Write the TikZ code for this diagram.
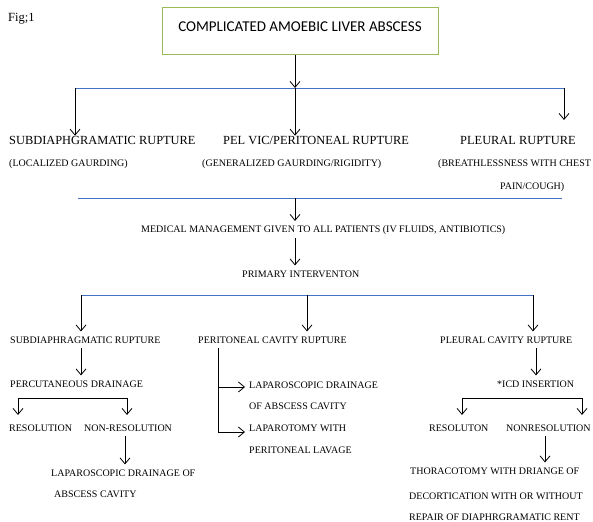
\documentclass[tikz,border=0pt]{standalone}
\usepackage{fontspec}
\setmainfont{Liberation Serif}
\newfontfamily\titlefont{Carlito}
\usetikzlibrary{arrows.meta}
\definecolor{barblue}{HTML}{4472C4}
\definecolor{boxgreen}{HTML}{9BBB59}
\begin{document}
\begin{tikzpicture}[x=1pt,y=-1pt,
  sm/.style={anchor=base west, inner xsep=0pt, inner ysep=5pt, font=\fontsize{10}{11}\selectfont, text height=6.6pt, text depth=0pt},
  big/.style={anchor=base west, inner sep=0pt, font=\fontsize{12.4}{14}\selectfont, text height=8.2pt, text depth=0pt},
  arr/.style={-{Straight Barb[length=6pt,width=10pt]}, line width=0.8pt},
  arrboth/.style={{Straight Barb[length=6pt,width=10pt]}-{Straight Barb[length=6pt,width=10pt]}, line width=0.8pt},
  ln/.style={line width=0.8pt},
  bar/.style={draw=barblue, line width=0.9pt}]
\fill[white] (0,0) rectangle (593,521);
\useasboundingbox (0,0) rectangle (593,521);

% title and label
\node[draw=boxgreen, line width=1pt, minimum width=276pt, minimum height=47pt, inner sep=0pt,
      text height=6pt, text depth=6pt, font=\titlefont\fontsize{15}{16}\selectfont]
      (title) at (300,31.5) {COMPLICATED AMOEBIC LIVER ABSCESS};
\node[anchor=base west, inner sep=0pt, font=\fontsize{12.5}{14}\selectfont] (fig) at (8,22) {Fig;1};

% level 1
\node[big] (sub1) at (9,144.1) {SUBDIAPHGRAMATIC RUPTURE};
\node[big] (pel1) at (223,144.1) {PEL VIC/PERITONEAL RUPTURE};
\node[big] (pl1) at (460,144.1) {PLEURAL RUPTURE};
\node[sm] (locg) at (9,166.75) {(LOCALIZED GAURDING)};
\node[sm] (geng) at (202,166.75) {(GENERALIZED GAURDING/RIGIDITY)};
\node[sm] (brea1) at (438,166.75) {(BREATHLESSNESS WITH CHEST};
\node[sm] (brea2) at (500,189.25) {PAIN/COUGH)};

% middle
\node[sm] (med) at (141,232.75) {MEDICAL MANAGEMENT GIVEN TO ALL PATIENTS (IV FLUIDS, ANTIBIOTICS)};
\node[sm] (prim) at (242,277.25) {PRIMARY INTERVENTON};

% level 3
\node[sm] (sub2) at (10,343.25) {SUBDIAPHRAGMATIC RUPTURE};
\node[sm] (per2) at (198,343.25) {PERITONEAL CAVITY RUPTURE};
\node[sm] (ple2) at (440,343.25) {PLEURAL CAVITY RUPTURE};
\node[sm] (perc) at (10,387.25) {PERCUTANEOUS DRAINAGE};
\node[sm] (icd) at (497,387.25) {*ICD INSERTION};
\node[sm] (lapd1) at (249,388.25) {LAPAROSCOPIC DRAINAGE};
\node[sm] (lapd2) at (249,409.25) {OF ABSCESS CAVITY};
\node[sm] (res1) at (9,431.25) {RESOLUTION};
\node[sm] (nres1) at (84,431.25) {NON-RESOLUTION};
\node[sm] (lapt1) at (249,431.25) {LAPAROTOMY WITH};
\node[sm] (lapt2) at (249,453.25) {PERITONEAL LAVAGE};
\node[sm] (res2) at (429,431.25) {RESOLUTON};
\node[sm] (nres2) at (506,431.25) {NONRESOLUTION};
\node[sm] (lap1) at (51,476.25) {LAPAROSCOPIC DRAINAGE OF};
\node[sm] (lap2) at (54,497.25) {ABSCESS CAVITY};
\node[sm] (thor1) at (410,474.25) {THORACOTOMY WITH DRIANGE OF};
\node[sm] (thor2) at (409,499.25) {DECORTICATION WITH OR WITHOUT};
\node[sm] (thor3) at (409,520.25) {REPAIR OF DIAPHRGRAMATIC RENT};

% coordinates
\coordinate (b1) at (295,88);
\coordinate (b1L) at (75,88);
\coordinate (b1R) at (564,88);
\coordinate (p1end) at (564,120);
\coordinate (b2) at (295,198);
\coordinate (b2L) at (78,198);
\coordinate (b2R) at (562,198);
\coordinate (b3L) at (81,295);
\coordinate (b3M) at (307,295);
\coordinate (b3R) at (533,295);
\coordinate (f1L) at (18,398);
\coordinate (f1R) at (127,398);
\coordinate (nr1) at (125,438);
\coordinate (pa) at (218,387);
\coordinate (pb) at (218,432);
\coordinate (pc) at (536,349);
\coordinate (f2L) at (462,398);
\coordinate (f2R) at (582,398);
\coordinate (nr2) at (545,438);

% bars
\draw[bar] (b1L) -- (b1R);
\draw[bar] (b2L) -- (b2R);
\draw[bar] (b3L) -- (b3R);

% connectors
\draw[arr] (title.south -| b1) -- (b1);
\draw[arr] (b1L) -- (b1L |- sub1.north);
\draw[arr] (b1) -- (b1 |- pel1.north);
\draw[arr] (b1R) -- (p1end);
\draw[arr] (b2) -- (b2 |- med.north);
\draw[arr] (med.south -| b2) -- (prim.north -| b2);
\draw[arr] (b3L) -- (b3L |- sub2.north);
\draw[arr] (b3M) -- (b3M |- per2.north);
\draw[arr] (b3R) -- (b3R |- ple2.north);

\draw[arr] (sub2.south -| b3L) -- (perc.north -| b3L);
\draw[arrboth, shorten <=4.5pt, shorten >=4.5pt] (res1.north -| f1L) -- (f1L) -- (f1R) -- (nres1.north -| f1R);
\draw[arr] (nres1.south -| nr1) -- (lap1.north -| nr1);

\draw[arr, shorten >=4pt] (per2.south -| pa) -- (pb) -- (pb -| lapt1.west);
\draw[arr, shorten >=4pt] (pa) -- (pa -| lapd1.west);

\draw[arr] (ple2.south -| pc) -- (icd.north -| pc);
\draw[arrboth, shorten <=4.5pt, shorten >=4.5pt] (res2.north -| f2L) -- (f2L) -- (f2R) -- (nres2.north -| f2R);
\draw[arr] (nres2.south -| nr2) -- (thor1.north -| nr2);
\end{tikzpicture}
\end{document}
